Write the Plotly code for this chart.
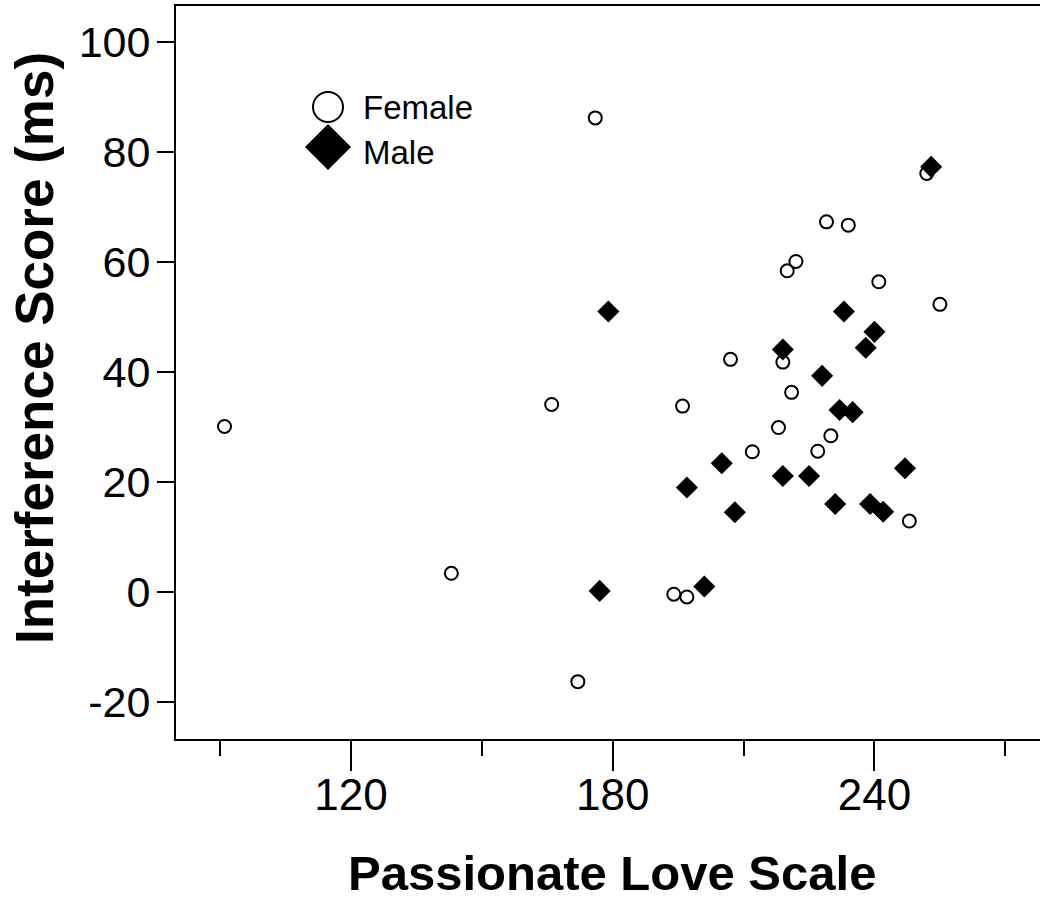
import plotly.graph_objects as go

# ---- data ----
female_x = [91, 143, 166, 172, 176, 194, 197, 196, 207, 212, 218, 219, 220, 222,
            221, 227, 229, 230, 234, 241, 248, 252, 255]
female_y = [30.1, 3.4, 34.1, -16.3, 86.2, -0.4, -0.9, 33.8, 42.3, 25.5, 29.9, 41.8,
            58.4, 60.1, 36.3, 25.6, 67.3, 28.4, 66.7, 56.4, 12.9, 76.1, 52.3]

male_x = [179, 177, 197, 201, 208, 205, 219, 219, 225, 228, 231, 232, 233, 235,
          238, 240, 239, 242, 247, 253]
male_y = [51.0, 0.2, 19.0, 1.0, 14.5, 23.4, 44.1, 21.1, 21.1, 39.3, 16.0, 33.1,
          51.0, 32.7, 44.4, 47.3, 16.0, 14.6, 22.5, 77.3]

x_ticks = [120, 180, 240]
y_ticks = [-20, 0, 20, 40, 60, 80, 100]
x_title = "Passionate Love Scale"
y_title = "Interference Score (ms)"
legend_labels = ["Female", "Male"]

FONT = "Arial, 'Liberation Sans', Helvetica, sans-serif"

fig = go.Figure()
fig.add_trace(go.Scatter(
    x=female_x, y=female_y, mode="markers", name=legend_labels[0],
    marker=dict(symbol="circle", size=13, color="white",
                line=dict(color="black", width=2)),
    showlegend=False,
))
fig.add_trace(go.Scatter(
    x=male_x, y=male_y, mode="markers", name=legend_labels[1],
    marker=dict(symbol="diamond", size=17, color="black",
                line=dict(color="black", width=0)),
    showlegend=False,
))

W, H = 1040, 900
L, R, T, B = 176, 0, 6, 161
pw, ph = W - L - R, H - T - B


def px_x(p):
    return (p - L) / pw


def px_y(p):
    return 1 - (p - T) / ph


# manual legend (large symbols as in the reference)
fig.add_shape(type="circle", xref="paper", yref="paper",
              xsizemode="pixel", ysizemode="pixel",
              xanchor=px_x(328), yanchor=px_y(107),
              x0=-15, x1=15, y0=-15, y1=15,
              line=dict(color="black", width=2), fillcolor="white")
fig.add_shape(type="path", xref="paper", yref="paper",
              xsizemode="pixel", ysizemode="pixel",
              xanchor=px_x(328), yanchor=px_y(147),
              path="M 0 -23 L 23 0 L 0 23 L -23 0 Z",
              line=dict(color="black", width=0), fillcolor="black")
fig.add_annotation(text=legend_labels[0], xref="paper", yref="paper",
                   x=px_x(361), y=px_y(108), xanchor="left", yanchor="middle",
                   showarrow=False, font=dict(family=FONT, size=33, color="black"))
fig.add_annotation(text=legend_labels[1], xref="paper", yref="paper",
                   x=px_x(361), y=px_y(152), xanchor="left", yanchor="middle",
                   showarrow=False, font=dict(family=FONT, size=33, color="black"))

# axis titles
fig.add_annotation(text="<b>%s</b>" % x_title, xref="paper", yref="paper",
                   x=px_x(612), y=px_y(873), xanchor="center", yanchor="middle",
                   showarrow=False, font=dict(family=FONT, size=49, color="black"))
fig.add_annotation(text="<b>%s</b>" % y_title, xref="paper", yref="paper",
                   x=px_x(34), y=px_y(348), xanchor="center", yanchor="middle",
                   textangle=-90,
                   showarrow=False, font=dict(family=FONT, size=53, color="black"))

fig.update_layout(
    width=W, height=H,
    margin=dict(l=L, r=R, t=T, b=B, pad=0),
    paper_bgcolor="white", plot_bgcolor="white",
    font=dict(family=FONT, color="black"),
    showlegend=False,
)
fig.update_xaxes(
    range=[79.88, 277.95], tickmode="array", tickvals=x_ticks,
    ticktext=[str(v) for v in x_ticks],
    ticks="outside", ticklen=30, tickwidth=2, tickcolor="black",
    ticklabelstandoff=-14,
    showline=True, linecolor="black", linewidth=2, mirror=True,
    showgrid=False, zeroline=False,
    tickfont=dict(family=FONT, size=44, color="black"),
    minor=dict(tickmode="array", tickvals=[90, 150, 210, 270], ticks="outside",
               ticklen=15, tickwidth=2, tickcolor="black", showgrid=False),
)
fig.update_yaxes(
    range=[-26.73, 106.55], tickmode="array", tickvals=y_ticks,
    ticktext=[str(v) for v in y_ticks],
    ticks="outside", ticklen=17, tickwidth=2, tickcolor="black",
    ticklabelstandoff=-2,
    showline=True, linecolor="black", linewidth=2, mirror=False,
    showgrid=False, zeroline=False,
    tickfont=dict(family=FONT, size=43, color="black"),
)

fig.write_html(
    "out.html",
    config={"displayModeBar": False},
    post_script="document.body.style.margin='0';document.body.style.overflow='hidden';",
)
